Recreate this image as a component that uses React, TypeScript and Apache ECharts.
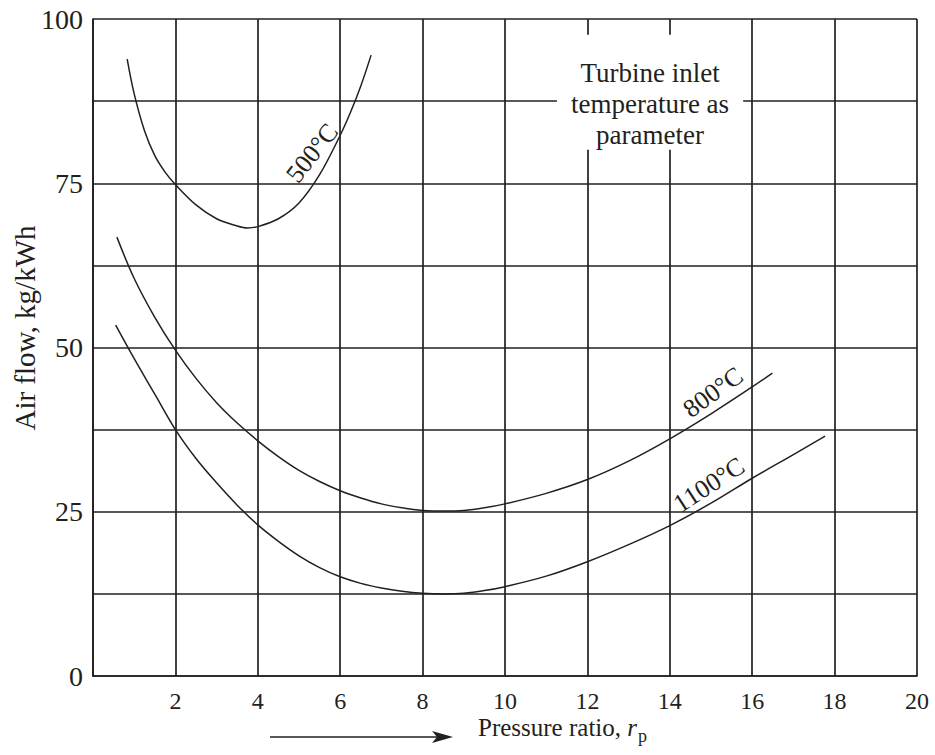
import React, { useEffect, useRef } from 'react';
import * as echarts from 'echarts';

// Turbine inlet temperature curves: pressure ratio (x) vs air flow kg/kWh (y)
const t500X = [0.83, 1.0, 1.25, 1.5, 1.75, 2.0, 2.5, 3.0, 3.5, 3.75, 4.0, 4.5, 5.0, 5.5, 6.0, 6.25, 6.5, 6.75];
const t500Y = [93.9, 88.6, 83.0, 79.2, 76.7, 74.8, 71.7, 69.6, 68.5, 68.2, 68.4, 69.6, 72.0, 76.3, 82.3, 85.8, 89.8, 94.5];

const t800X = [0.58, 1.0, 1.5, 2.0, 2.5, 3.0, 3.5, 4.0, 4.5, 5.0, 5.5, 6.0, 6.5, 7.0, 7.5, 8.0, 8.5, 9.0, 9.5, 10, 11, 12, 13, 14, 15, 16, 16.49];
const t800Y = [66.8, 60.5, 54.6, 49.6, 45.3, 41.6, 38.5, 35.8, 33.4, 31.3, 29.6, 28.2, 27.1, 26.2, 25.6, 25.2, 25.1, 25.2, 25.6, 26.2, 27.8, 29.9, 32.7, 36.1, 39.9, 44.0, 46.1];

const t1100X = [0.55, 1.0, 1.5, 2.0, 2.5, 3.0, 3.5, 4.0, 4.5, 5.0, 5.5, 6.0, 6.5, 7.0, 7.5, 8.0, 8.5, 9.0, 9.5, 10, 11, 12, 13, 14, 15, 16, 17, 17.77];
const t1100Y = [53.4, 48.3, 42.9, 37.5, 33.1, 29.4, 26.0, 23.0, 20.5, 18.3, 16.5, 15.1, 14.1, 13.4, 12.9, 12.6, 12.5, 12.6, 13.0, 13.6, 15.2, 17.4, 20.0, 22.9, 26.3, 30.1, 33.7, 36.5];

const curveNames = ['500°C', '800°C', '1100°C'];
// label anchor (data coords) and rotation in degrees
const labelX = [5.32, 15.05, 14.95];
const labelY = [79.6, 43.2, 29.1];
const labelRot = [52, 36, 33];

const noteLines = ['Turbine inlet', 'temperature as', 'parameter'];
const xAxisName = 'Pressure ratio, ';
const yAxisName = 'Air flow, kg/kWh';

const INK = '#231f20';
const FONT = '"Liberation Serif", "Times New Roman", serif';

function zip(xs: number[], ys: number[]) {
  return xs.map((x, i) => [x, ys[i]]);
}

function txtStyle(text: string, font: string, align = 'center') {
  return {
    text,
    font,
    fill: INK,
    align,
    verticalAlign: 'middle',
    textAlign: align,
    textVerticalAlign: 'middle',
  };
}

export default function App() {
  const ref = useRef<HTMLDivElement>(null);
  useEffect(() => {
    document.body.style.margin = '0';
    const chart = echarts.init(ref.current!, null, { renderer: 'svg' });
    const lineStyle = { color: INK, width: 1.5 };
    const seriesData = [zip(t500X, t500Y), zip(t800X, t800Y), zip(t1100X, t1100Y)];
    chart.setOption({
      animation: false,
      backgroundColor: '#fff',
      grid: { left: 93, top: 19, width: 824, height: 657 },
      xAxis: {
        type: 'value',
        min: 0,
        max: 20,
        interval: 2,
        axisLine: { show: true, lineStyle: { color: INK, width: 1.7 } },
        axisTick: { show: false },
        splitLine: { show: true, lineStyle: { color: INK, width: 1.7 } },
        axisLabel: {
          color: INK,
          fontFamily: FONT,
          fontSize: 24,
          margin: 13,
          formatter: (v: number) => (v === 0 ? '' : String(v)),
        },
      },
      yAxis: {
        type: 'value',
        min: 0,
        max: 100,
        interval: 12.5,
        axisLine: { show: true, lineStyle: { color: INK, width: 1.7 } },
        axisTick: { show: false },
        splitLine: { show: true, lineStyle: { color: INK, width: 1.7 } },
        axisLabel: {
          color: INK,
          fontFamily: FONT,
          fontSize: 28,
          margin: 10,
          formatter: (v: number) => (v % 25 === 0 ? String(v) : ''),
        },
      },
      series: seriesData.map((d, i) => ({
        type: 'line',
        name: curveNames[i],
        data: d,
        smooth: 0.35,
        showSymbol: false,
        symbol: 'none',
        lineStyle,
        z: 5,
      })),
    });

    const px = (x: number, y: number) => chart.convertToPixel({ gridIndex: 0 }, [x, y]) as number[];

    const graphics: any[] = [];
    curveNames.forEach((name, i) => {
      const [gx, gy] = px(labelX[i], labelY[i]);
      graphics.push({
        type: 'text',
        x: gx,
        y: gy,
        rotation: (labelRot[i] * Math.PI) / 180,
        z: 20,
        style: txtStyle(name, `26px ${FONT}`),
      });
    });

    // note box
    const [bx0, by0] = px(11.26, 97.6);
    const [bx1, by1] = px(15.78, 80.1);
    graphics.push({
      type: 'rect',
      z: 15,
      shape: { x: bx0, y: by0, width: bx1 - bx0, height: by1 - by0 },
      style: { fill: '#fff', stroke: null },
    });
    const cx = (bx0 + bx1) / 2;
    noteLines.forEach((t, i) => {
      graphics.push({
        type: 'text',
        x: cx,
        y: 73 + i * 31,
        z: 20,
        style: txtStyle(t, `27px ${FONT}`),
      });
    });

    // y axis name
    graphics.push({
      type: 'text',
      x: 25,
      y: 328,
      rotation: Math.PI / 2,
      style: txtStyle(yAxisName, `29px ${FONT}`),
    });

    // x axis name with arrow
    const nameY = 727;
    const ctx = document.createElement('canvas').getContext('2d')!;
    ctx.font = `25px ${FONT}`;
    const w1 = ctx.measureText(xAxisName).width;
    ctx.font = `italic 25px ${FONT}`;
    const w2 = ctx.measureText('r').width;
    const nx = 478;
    graphics.push({ type: 'text', x: nx, y: nameY, style: txtStyle(xAxisName, `25px ${FONT}`, 'left') });
    graphics.push({ type: 'text', x: nx + w1, y: nameY, style: txtStyle('r', `italic 25px ${FONT}`, 'left') });
    graphics.push({ type: 'text', x: nx + w1 + w2 + 1, y: nameY + 9, style: txtStyle('p', `18px ${FONT}`, 'left') });
    graphics.push({
      type: 'line',
      shape: { x1: 270, y1: 737, x2: 445, y2: 737 },
      style: { stroke: INK, lineWidth: 1.5 },
    });
    graphics.push({
      type: 'polygon',
      shape: { points: [[453, 737], [432, 731], [437, 737], [432, 743]] },
      style: { fill: INK, stroke: null },
    });

    chart.setOption({ graphic: graphics });
    return () => chart.dispose();
  }, []);
  return <div ref={ref} style={{ width: 935, height: 755 }} />;
}
